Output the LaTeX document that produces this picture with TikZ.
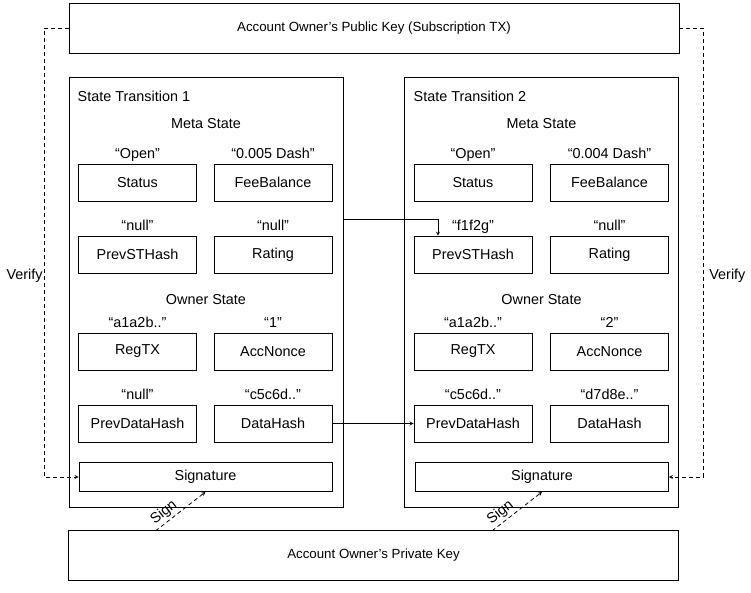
\documentclass[tikz,border=0pt]{standalone}
\usepackage{fontspec}
\setmainfont{Liberation Sans}
\usetikzlibrary{positioning,calc,arrows}

\tikzset{
  field/.style={draw,minimum width=118pt,minimum height=37pt,inner sep=0pt},
  val/.style={inner sep=2pt,text height=10.5pt,text depth=3pt},
  stbox/.style={draw,minimum width=274pt,minimum height=430pt},
  keybox/.style={draw,minimum width=610pt,minimum height=50pt,font=\fontsize{13.3}{16}\selectfont},
  sigbox/.style={draw,minimum width=253pt,minimum height=29pt,inner sep=0pt},
  link/.style={->,>=stealth},
  dashlink/.style={->,>=stealth,dash pattern=on 4pt off 3pt},
}

\begin{document}
\begin{tikzpicture}[x=1pt,y=-1pt,line width=0.8pt,font=\fontsize{14.4}{17}\selectfont]
  \useasboundingbox (0,0) rectangle (751,592);
  \node[keybox] (pub) at (374,28) {Account Owner’s Public Key (Subscription TX)};
  \node[stbox] (st1) at (206,292) {};
  \node[stbox] (st2) at (541.5,292) {};
  \node[keybox] (priv) at (373.5,555) {Account Owner’s Private Key};

  % state transition 1
  \node[anchor=west] (st1title) at (74,96) {State Transition 1};
  \node (st1meta) at (206,124) {Meta State};
  \node[field] (st1status) at (137.5,182.5) {Status};
  \node[field] (st1fee) at (273,182.5) {FeeBalance};
  \node[field] (st1prevst) at (137.5,254.5) {PrevSTHash};
  \node[field] (st1rating) at (273,254.5) {Rating};
  \node (st1owner) at (206,300) {Owner State};
  \node[field] (st1regtx) at (137.5,351.5) {RegTX};
  \node[field] (st1nonce) at (273,351.5) {AccNonce};
  \node[field] (st1prevdata) at (137.5,423.5) {PrevDataHash};
  \node[field] (st1data) at (273,423.5) {DataHash};
  \node[sigbox] (st1sig) at (205.5,477) {Signature};
  \node[val,above=0pt of st1status] {“Open”};
  \node[val,above=0pt of st1fee] {“0.005 Dash”};
  \node[val,above=0pt of st1prevst] {“null”};
  \node[val,above=0pt of st1rating] {“null”};
  \node[val,above=0pt of st1regtx] {“a1a2b..”};
  \node[val,above=0pt of st1nonce] {“1”};
  \node[val,above=0pt of st1prevdata] {“null”};
  \node[val,above=0pt of st1data] {“c5c6d..”};

  % state transition 2
  \node[anchor=west] (st2title) at (410,96) {State Transition 2};
  \node (st2meta) at (541.5,124) {Meta State};
  \node[field] (st2status) at (473,182.5) {Status};
  \node[field] (st2fee) at (609.5,182.5) {FeeBalance};
  \node[field] (st2prevst) at (473,254.5) {PrevSTHash};
  \node[field] (st2rating) at (609.5,254.5) {Rating};
  \node (st2owner) at (541.5,300) {Owner State};
  \node[field] (st2regtx) at (473,351.5) {RegTX};
  \node[field] (st2nonce) at (609.5,351.5) {AccNonce};
  \node[field] (st2prevdata) at (473,423.5) {PrevDataHash};
  \node[field] (st2data) at (609.5,423.5) {DataHash};
  \node[sigbox] (st2sig) at (542,477) {Signature};
  \node[val,above=0pt of st2status] {“Open”};
  \node[val,above=0pt of st2fee] {“0.004 Dash”};
  \node[val,above=0pt of st2prevst] {“f1f2g”};
  \node[val,above=0pt of st2rating] {“null”};
  \node[val,above=0pt of st2regtx] {“a1a2b..”};
  \node[val,above=0pt of st2nonce] {“2”};
  \node[val,above=0pt of st2prevdata] {“c5c6d..”};
  \node[val,above=0pt of st2data] {“d7d8e..”};

  % links between the transitions
  \coordinate (hop) at (438,219);
  \draw[link] (st1.east |- hop) -- (hop) -- (hop |- st2prevst.north);
  \draw[link] (st1data.east) -- (st2prevdata.west);

  % verify
  \coordinate (vleft) at (44,0);
  \coordinate (vright) at (703,0);
  \draw[dashlink] (pub.west) -| (vleft |- st1sig.west) -- (st1sig.west);
  \draw[dashlink] (pub.east) -| (vright |- st2sig.east) -- (st2sig.east);
  \node[anchor=east,inner sep=1pt] (verifyl) at (44,276) {Verify};
  \node[anchor=west,inner sep=1pt] (verifyr) at (708,276) {Verify};

  % sign
  \draw[dashlink] ($(st1sig.south)+(-50,39)$) -- (st1sig.south)
    node[pos=0.28,sloped,above,inner sep=2pt] {Sign};
  \draw[dashlink] ($(st2sig.south)+(-50,39)$) -- (st2sig.south)
    node[pos=0.28,sloped,above,inner sep=2pt] {Sign};
\end{tikzpicture}
\end{document}
